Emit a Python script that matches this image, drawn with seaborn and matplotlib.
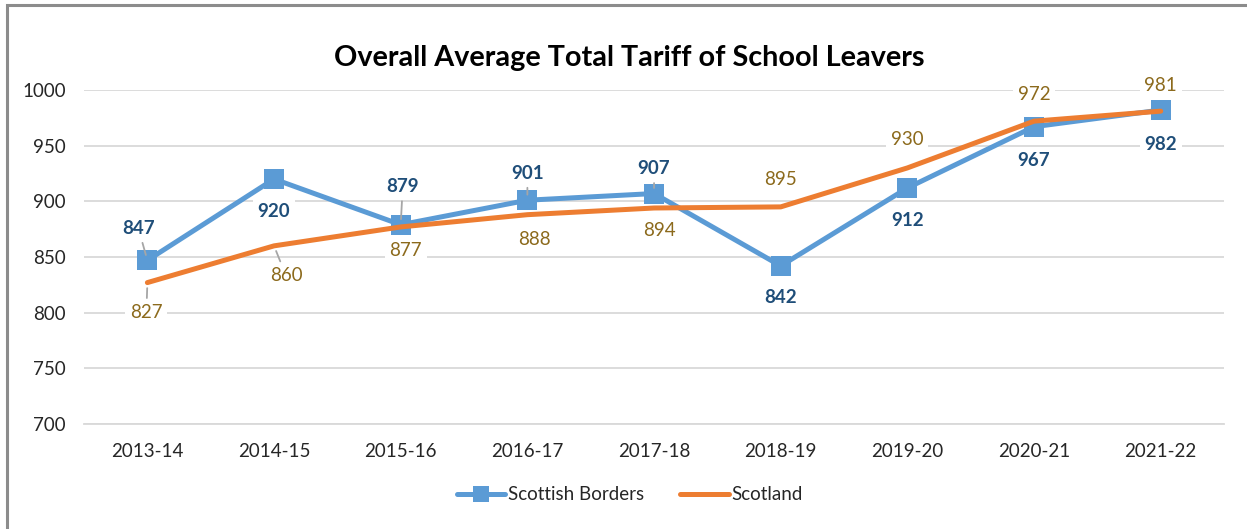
import matplotlib
matplotlib.use("Agg")
import matplotlib.pyplot as plt
import pandas as pd
import seaborn as sns
from matplotlib.patches import Rectangle

years = ["2013-14", "2014-15", "2015-16", "2016-17", "2017-18",
         "2018-19", "2019-20", "2020-21", "2021-22"]
borders = [847, 920, 879, 901, 907, 842, 912, 967, 982]
scotland = [827, 860, 877, 888, 894, 895, 930, 972, 981]
y_ticks = [700, 750, 800, 850, 900, 950, 1000]

# label offsets in pixels (dx, dy; positive dy = up) and whether a leader line is drawn
borders_off = [(-9, 32, True), (0, -32, False), (2, 38, True), (0, 27, True),
               (0, 25, True), (0, -32, False), (0, -33, False), (0, -34, False),
               (0, -34, False)]
scotland_off = [(-1, -30, True), (12, -30, True), (5, -24, False), (7, -25, False),
                (5, -23, False), (0, 27, False), (0, 28, False), (0, 27, False),
                (0, 26, False)]

BLUE = "#5B9BD5"
ORANGE = "#ED7D31"
BLUE_TXT = "#1F4E79"
GOLD_TXT = "#8C6A1C"
GRID = "#D9D9D9"
FS = 13.5

sns.set_theme(style="white")
plt.rcParams["font.family"] = ["Lato", "DejaVu Sans"]

df = pd.DataFrame({
    "year": years * 2,
    "value": borders + scotland,
    "series": ["Scottish Borders"] * len(years) + ["Scotland"] * len(years),
})

fig = plt.figure(figsize=(12.47, 5.29), dpi=100)
ax = fig.add_axes([0.0674, 0.1985, 0.9142, 0.6314])

sns.lineplot(data=df[df.series == "Scottish Borders"], x="year", y="value",
             color=BLUE, linewidth=3.6, marker="s", markersize=14,
             markeredgewidth=0, ax=ax, label="Scottish Borders", zorder=3)
sns.lineplot(data=df[df.series == "Scotland"], x="year", y="value",
             color=ORANGE, linewidth=3.6, ax=ax, label="Scotland", zorder=4)

ax.set_xlim(-0.5, len(years) - 0.5)
ax.set_ylim(700, 1000)
ax.set_yticks(y_ticks)
ax.set_yticklabels([str(t) for t in y_ticks])
ax.set_xlabel("")
ax.set_ylabel("")
ax.grid(axis="y", color=GRID, linewidth=1.3, zorder=0)
ax.grid(axis="x", visible=False)
for s in ["top", "right", "left"]:
    ax.spines[s].set_visible(False)
ax.spines["bottom"].set_color(GRID)
ax.spines["bottom"].set_linewidth(1.3)
ax.tick_params(axis="both", length=0, labelsize=FS, colors="#262626")
ax.tick_params(axis="y", pad=13)
ax.tick_params(axis="x", pad=14)

def put_labels(values, offsets, color, weight):
    for i, (v, (dx, dy, leader)) in enumerate(zip(values, offsets)):
        arrow = None
        if leader:
            arrow = dict(arrowstyle="-", color="#A6A6A6", linewidth=1.3,
                         shrinkA=1, shrinkB=4)
        ax.annotate(str(v), xy=(i, v), xytext=(dx, dy), textcoords="offset pixels",
                    ha="center", va="center", fontsize=FS, color=color,
                    fontweight=weight, zorder=6, arrowprops=arrow,
                    bbox=dict(boxstyle="square,pad=0.25", fc="white", ec="none"))

put_labels(borders, borders_off, BLUE_TXT, "bold")
put_labels(scotland, scotland_off, GOLD_TXT, "normal")

fig.suptitle("Overall Average Total Tariff of School Leavers", x=0.505, y=0.915,
             fontsize=20.7, fontweight="bold", color="#000000")

leg = ax.legend(loc="center", bbox_to_anchor=(0.505, 0.065),
                bbox_transform=fig.transFigure, ncol=2, frameon=False,
                fontsize=FS, handlelength=2.6, handletextpad=0.15,
                columnspacing=1.9)
for t in leg.get_texts():
    t.set_color("#262626")
for h in leg.legend_handles:
    h.set_markersize(12)

# chart frame
fig.patches.append(Rectangle((7 / 1247, -0.05), 1.2, (529 - 5) / 529 + 0.05,
                             transform=fig.transFigure, fill=False,
                             edgecolor="#8C8C8C", linewidth=2.2, zorder=10))

fig.savefig("out.png", dpi=100)
